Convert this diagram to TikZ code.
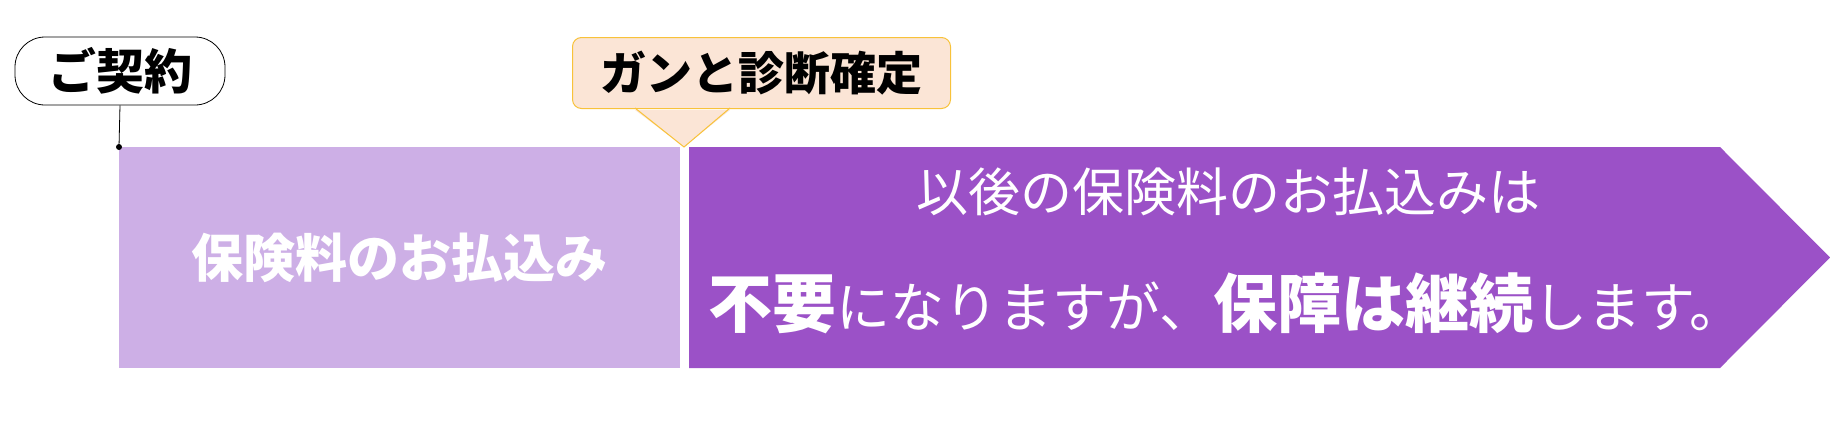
\documentclass[tikz,border=0pt]{standalone}
\usepackage{fontspec}
\setmainfont{Noto Sans CJK JP}
\usetikzlibrary{positioning}

\definecolor{paidpurple}{HTML}{CDAFE6}
\definecolor{freepurple}{HTML}{9B51C7}
\definecolor{notepeach}{HTML}{FBE5D6}
\definecolor{notegold}{HTML}{F8C23A}

\begin{document}
\begin{tikzpicture}[x=1pt,y=-1pt]

  \tikzstyle{tag}=[shape=rectangle, draw=black, line width=0.8pt, rounded corners=30pt, fill=white, minimum width=210pt, minimum height=68pt, inner sep=0pt]

  \tikzstyle{note}=[shape=rectangle, draw=notegold, line width=1pt, rounded corners=9pt, fill=notepeach, minimum width=378pt, minimum height=71pt, inner sep=0pt]

  \tikzstyle{paid}=[shape=rectangle, fill=paidpurple, minimum width=561pt, minimum height=221pt, inner sep=0pt, text=white]

  \tikzstyle{label}=[inner sep=0pt, text=white]

\useasboundingbox (0,0) rectangle (1830,434);

%% nodes or vertices

\node (contract)[tag, font=\fontsize{48}{52}\selectfont\bfseries] at (120,71) {ご契約};

\node (paid)[paid, anchor=north west, font=\fontsize{52}{58}\selectfont\bfseries] at (119,147) {保険料のお払込み};

\coordinate (start) at (paid.north west);

%% waived part as an arrow
\fill[freepurple] (689,147) -- (1720,147) -- (1830,257.5) -- (1720,368) -- (689,368) -- cycle;

\node (after)[label, font=\fontsize{52}{58}\selectfont] at (1228,192) {以後の保険料のお払込みは};

\node (kept)[label, font=\fontsize{54}{60}\selectfont] at (1226,303)
  {{\fontsize{64}{70}\selectfont\bfseries 不要}になりますが、{\fontsize{64}{70}\selectfont\bfseries 保障は継続}します。};

%% callout on the diagnosis
\node (diagnosis)[note, anchor=north west, font=\fontsize{46}{50}\selectfont\bfseries] at (572,37) {ガンと診断確定};

\coordinate (tip) at (684,147);
\coordinate (pl) at (635,108);
\coordinate (pr) at (730,108);

\fill[notepeach] ([yshift=-2pt]pl) -- (tip) -- ([yshift=-2pt]pr) -- cycle;
\draw[notegold, line width=1pt] (pl) -- (tip) -- (pr);

%% edges or lines
\draw[line width=0.8pt] (contract.south) -- (start);
\fill (start) circle (3pt);

\end{tikzpicture}
\end{document}
